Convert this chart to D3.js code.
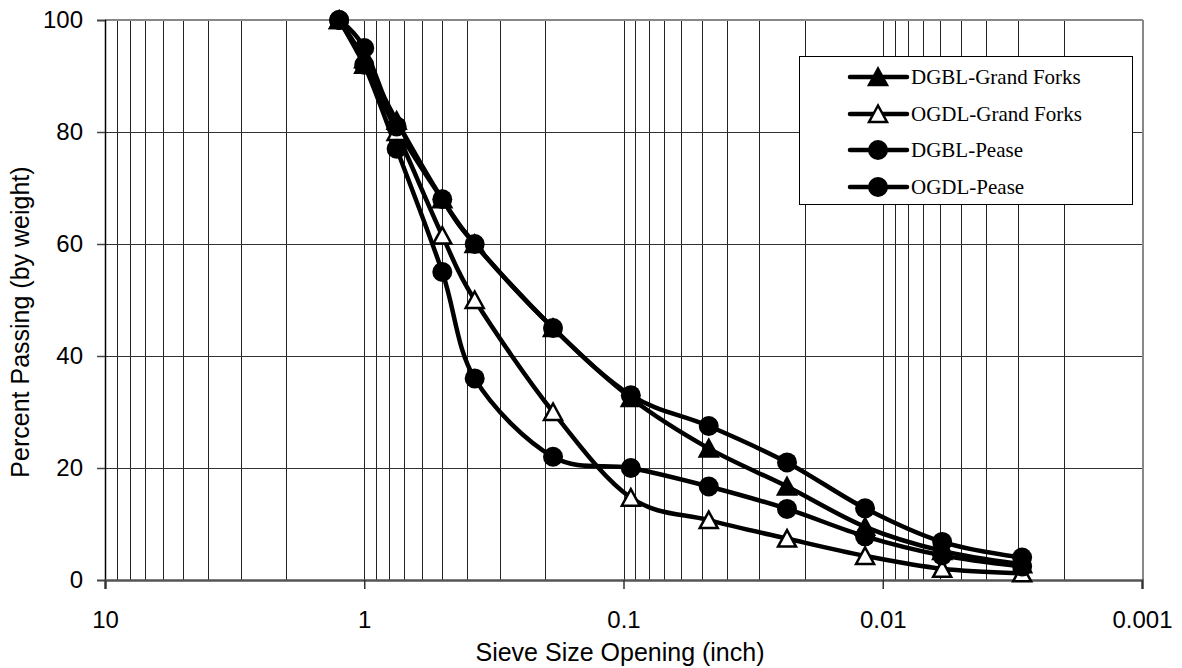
<!DOCTYPE html>
<html>
<head>
<meta charset="utf-8">
<script src="https://cdn.jsdelivr.net/npm/d3@7/dist/d3.min.js"></script>
<style>
  html, body { margin: 0; padding: 0; background: #fff; }
  svg { display: block; }
</style>
</head>
<body>
<svg id="chart" width="1182" height="668"></svg>
<script>
// Sieve openings (inch) and percent passing for each gradation
const sieveSizes = [1.25, 1, 0.75, 0.5, 0.375, 0.187, 0.0937, 0.0469, 0.0234, 0.0117, 0.0059, 0.0029];
const dgblGrandForks = [100, 93, 82, 68, 60, 45, 32.5, 23.5, 16.7, 9.5, 5.2, 2.8];
const ogdlGrandForks = [100, 92, 80, 61.5, 50, 30, 14.7, 10.7, 7.4, 4.3, 2.0, 1.2];
const dgblPease = [100, 95, 81, 68, 60, 45, 33, 27.5, 21, 12.8, 6.8, 4.0];
const ogdlPease = [100, 92, 77, 55, 36, 22, 20, 16.7, 12.7, 7.8, 4.4, 2.4];

const seriesNames = ["DGBL-Grand Forks", "OGDL-Grand Forks", "DGBL-Pease", "OGDL-Pease"];
const seriesValues = [dgblGrandForks, ogdlGrandForks, dgblPease, ogdlPease];
const seriesMarkers = ["triangleFilled", "triangleOpen", "circle", "circle"];

const xTickValues = [10, 1, 0.1, 0.01, 0.001];
const yTickValues = [0, 20, 40, 60, 80, 100];

const svg = d3.select("#chart");
const plot = { left: 105, right: 1142, top: 20, bottom: 580 };
const sansFont = "Liberation Sans, Arial, sans-serif";

const x = d3.scaleLog().domain([10, 0.001]).range([plot.left, plot.right]);
const y = d3.scaleLinear().domain([0, 100]).range([plot.bottom, plot.top]);

// Vertical grid: every 1..9 step within each decade
const gridX = [];
for (let e = 0; e >= -3; e--) {
  for (let m = 1; m <= 9; m++) {
    const v = m * Math.pow(10, e);
    if (v <= 10 && v > 0.001) gridX.push(v);
  }
}
const grid = svg.append("g").attr("shape-rendering", "crispEdges");
grid.selectAll("line.vx").data(gridX).enter().append("line")
  .attr("x1", d => Math.round(x(d)) + 0.5).attr("x2", d => Math.round(x(d)) + 0.5)
  .attr("y1", plot.top).attr("y2", plot.bottom)
  .attr("stroke", "#222").attr("stroke-width", 1);
grid.selectAll("line.hy").data(yTickValues.filter(v => v > 0 && v < 100)).enter().append("line")
  .attr("x1", plot.left).attr("x2", plot.right)
  .attr("y1", d => Math.round(y(d)) + 0.5).attr("y2", d => Math.round(y(d)) + 0.5)
  .attr("stroke", "#333").attr("stroke-width", 1);

// Plot frame (top and right)
svg.append("line").attr("x1", plot.left).attr("x2", plot.right + 1)
  .attr("y1", plot.top).attr("y2", plot.top).attr("stroke", "#888").attr("stroke-width", 2);
svg.append("line").attr("x1", plot.right + 1).attr("x2", plot.right + 1)
  .attr("y1", plot.top).attr("y2", plot.bottom).attr("stroke", "#888").attr("stroke-width", 2);

// Axes
const yAxis = d3.axisLeft(y).tickValues(yTickValues).tickSize(8).tickPadding(14).tickFormat(d3.format("d"));
const gy = svg.append("g").attr("transform", `translate(${plot.left},0)`).call(yAxis);
gy.select(".domain").attr("stroke", "#000").attr("stroke-width", 1.5);
gy.selectAll(".tick line").attr("stroke", "#444").attr("stroke-width", 1.5);
gy.selectAll("text").attr("font-family", sansFont).attr("font-size", 24).attr("fill", "#000");

const xAxis = d3.axisBottom(x).tickValues(xTickValues).tickSize(9).tickPadding(22)
  .tickFormat(d => String(d));
const gx = svg.append("g").attr("transform", `translate(0,${plot.bottom})`).call(xAxis);
gx.select(".domain").attr("stroke", "#555").attr("stroke-width", 2.5);
gx.selectAll(".tick line").attr("stroke", "#333").attr("stroke-width", 1.5);
gx.selectAll("text").attr("font-family", sansFont).attr("font-size", 24).attr("fill", "#000");

// Axis titles
svg.append("text").attr("x", 620).attr("y", 661).attr("text-anchor", "middle")
  .attr("font-family", sansFont).attr("font-size", 25)
  .text("Sieve Size Opening (inch)");
svg.append("text").attr("transform", "translate(29,322) rotate(-90)").attr("text-anchor", "middle")
  .attr("font-family", sansFont).attr("font-size", 25)
  .text("Percent Passing (by weight)");

// Marker drawing helper
function drawMarker(g, kind, cx, cy) {
  if (kind === "circle") {
    g.append("circle").attr("cx", cx).attr("cy", cy).attr("r", 10).attr("fill", "#000");
  } else {
    const path = `M${cx},${cy - 8.5} L${cx + 9},${cy + 8} L${cx - 9},${cy + 8} Z`;
    g.append("path").attr("d", path)
      .attr("fill", kind === "triangleFilled" ? "#000" : "#fff")
      .attr("stroke", "#000").attr("stroke-width", 2.5).attr("stroke-linejoin", "miter");
  }
}

// Smoothed gradation curves
const line = d3.line()
  .x(d => x(d[0])).y(d => y(d[1]))
  .curve(d3.curveCatmullRom.alpha(0));

const linesG = svg.append("g");
const markersG = svg.append("g");
seriesValues.forEach((vals, i) => {
  const pts = sieveSizes.map((s, j) => [s, vals[j]]);
  linesG.append("path").attr("d", line(pts))
    .attr("fill", "none").attr("stroke", "#000").attr("stroke-width", 4.5)
    .attr("stroke-linejoin", "round");
});
seriesValues.forEach((vals, i) => {
  sieveSizes.forEach((s, j) => drawMarker(markersG, seriesMarkers[i], x(s), y(vals[j])));
});

// Legend
const legend = svg.append("g");
legend.append("rect").attr("x", 799.5).attr("y", 56.5).attr("width", 333).attr("height", 148)
  .attr("fill", "#fff").attr("stroke", "#000").attr("stroke-width", 1);
const rowY = [77, 114, 150, 187];
seriesNames.forEach((name, i) => {
  const ry = rowY[i];
  legend.append("line").attr("x1", 850).attr("x2", 907).attr("y1", ry).attr("y2", ry)
    .attr("stroke", "#000").attr("stroke-width", 4.5).attr("stroke-linecap", "round");
  drawMarker(legend, seriesMarkers[i], 878, ry);
  legend.append("text").attr("x", 911).attr("y", ry + 7)
    .attr("font-family", "Liberation Serif, Times New Roman, serif").attr("font-size", 21)
    .text(name);
});
</script>
</body>
</html>
